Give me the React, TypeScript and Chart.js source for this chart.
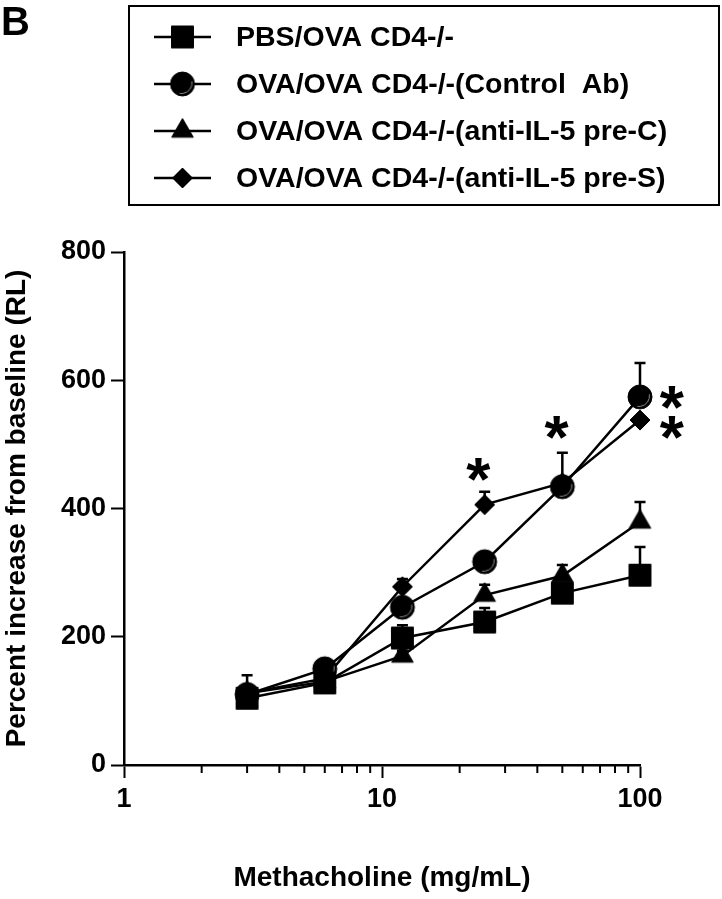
import React, { useEffect, useRef } from 'react';
import { Chart, registerables } from 'chart.js';

Chart.register(...registerables);

const FONT = '"Liberation Sans", Arial, Helvetica, sans-serif';

// ---- data ----
const doses = [3, 6, 12, 25, 50, 100];
const seriesLabels = [
  'PBS/OVA CD4-/-',
  'OVA/OVA CD4-/-(Control  Ab)',
  'OVA/OVA CD4-/-(anti-IL-5 pre-C)',
  'OVA/OVA CD4-/-(anti-IL-5 pre-S)',
];
const pbsValues = [104, 128, 198, 223, 268, 296];
const pbsErr = [12, 6, 20, 22, 10, 44];
const ctrlValues = [110, 150, 246, 317, 434, 574];
const ctrlErr = [8, 6, 8, 6, 53, 53];
const preCValues = [112, 130, 170, 265, 295, 379];
const preCErr = [8, 6, 8, 16, 17, 31];
const preSValues = [112, 135, 278, 406, 440, 538];
const preSErr = [28, 6, 12, 20, 6, 6];
const pointStyles = ['rect', 'circle', 'triangle', 'rectRot'];
const pointSizes = [15.5, 12, 12.5, 10];

const yTickValues = [0, 200, 400, 600, 800];
const xTickLabels = [1, 10, 100];
const xMinorTicks = [2, 3, 4, 5, 6, 7, 8, 9, 20, 30, 40, 50, 60, 70, 80, 90];

// significance asterisks (data coordinates)
const starX = [23.6, 47.5, 132.7, 132.7];
const starY = [468, 534, 580, 534];

const xTitle = 'Methacholine (mg/mL)';
const yTitle = 'Percent increase from baseline (RL)';
const panelLabel = 'B';

const allValues = [pbsValues, ctrlValues, preCValues, preSValues];
const allErr = [pbsErr, ctrlErr, preCErr, preSErr];

function markerPath(ctx: CanvasRenderingContext2D, style: string, x: number, y: number, r: number) {
  ctx.beginPath();
  if (style === 'rect') {
    const s = Math.SQRT1_2 * r;
    ctx.rect(x - s, y - s, 2 * s, 2 * s);
  } else if (style === 'circle') {
    ctx.arc(x, y, r, 0, Math.PI * 2);
  } else if (style === 'triangle') {
    const a = (2 * Math.PI) / 3;
    ctx.moveTo(x, y - r);
    ctx.lineTo(x + r * Math.sin(a), y - r * Math.cos(a));
    ctx.lineTo(x + r * Math.sin(2 * a), y - r * Math.cos(2 * a));
    ctx.closePath();
  } else {
    ctx.moveTo(x - r, y);
    ctx.lineTo(x, y - r);
    ctx.lineTo(x + r, y);
    ctx.lineTo(x, y + r);
    ctx.closePath();
  }
}

// marker sprites (black shape; circle carries the faint grey crescent of the original)
function makeSprite(style: string, r: number): HTMLCanvasElement {
  const size = Math.ceil(2 * r + 4);
  const c = document.createElement('canvas');
  c.width = size;
  c.height = size;
  const ctx = c.getContext('2d') as CanvasRenderingContext2D;
  const cx = size / 2, cy = size / 2;
  ctx.fillStyle = '#000';
  ctx.strokeStyle = '#000';
  ctx.lineWidth = 1;
  markerPath(ctx, style, cx, cy, r);
  ctx.fill();
  ctx.stroke();
  if (style === 'circle') {
    ctx.strokeStyle = '#8a8a8a';
    ctx.lineWidth = 1;
    ctx.beginPath();
    ctx.arc(cx - 1, cy - 1, r - 1.5, -0.05 * Math.PI, 0.55 * Math.PI);
    ctx.stroke();
  }
  return c;
}

const errorBarPlugin = {
  id: 'errorBars',
  beforeDatasetsDraw(chart: any) {
    const ctx = chart.ctx as CanvasRenderingContext2D;
    const xs = chart.scales.x;
    const ys = chart.scales.y;
    ctx.save();
    ctx.strokeStyle = '#000';
    ctx.lineWidth = 2.5;
    allValues.forEach((vals, si) => {
      vals.forEach((v, i) => {
        const e = allErr[si][i];
        const px = xs.getPixelForValue(doses[i]);
        const py = ys.getPixelForValue(v);
        const pt = ys.getPixelForValue(v + e);
        ctx.beginPath();
        ctx.moveTo(px, py);
        ctx.lineTo(px, pt);
        ctx.moveTo(px - 5.5, pt);
        ctx.lineTo(px + 5.5, pt);
        ctx.stroke();
      });
    });
    ctx.restore();
  },
};

export default function App() {
  const ref = useRef<HTMLCanvasElement | null>(null);
  useEffect(() => {
    if (!ref.current) return;
    const sprites = pointStyles.map((s, i) => makeSprite(s, pointSizes[i]));

    const decorPlugin = {
      id: 'decor',
      afterDraw(chart: any) {
        const ctx = chart.ctx as CanvasRenderingContext2D;
        const xs = chart.scales.x;
        const ys = chart.scales.y;
        ctx.save();
        // minor ticks on x axis
        ctx.strokeStyle = '#000';
        ctx.lineWidth = 2;
        const base = chart.chartArea.bottom;
        xMinorTicks.forEach((t) => {
          const px = xs.getPixelForValue(t);
          ctx.beginPath();
          ctx.moveTo(px, base);
          ctx.lineTo(px, base + 8);
          ctx.stroke();
        });

        // asterisks
        ctx.fillStyle = '#000';
        const starSize = 62;
        ctx.font = `bold ${starSize}px ${FONT}`;
        ctx.textAlign = 'center';
        ctx.textBaseline = 'alphabetic';
        starX.forEach((sx, i) => {
          const px = xs.getPixelForValue(sx);
          const py = ys.getPixelForValue(starY[i]);
          ctx.fillText('*', px, py + 0.57 * starSize);
        });

        // panel label
        ctx.font = `bold 40px ${FONT}`;
        ctx.textAlign = 'left';
        ctx.fillText(panelLabel, 1, 35);

        // legend box
        const boxL = 129, boxT = 6, boxR = 719, boxB = 205;
        ctx.lineWidth = 2;
        ctx.strokeRect(boxL, boxT, boxR - boxL, boxB - boxT);
        const rowY = [37, 84, 131, 178];
        ctx.font = `bold 28.5px ${FONT}`;
        ctx.textBaseline = 'middle';
        seriesLabels.forEach((lab, i) => {
          const y = rowY[i];
          ctx.lineWidth = 2.5;
          ctx.beginPath();
          ctx.moveTo(154, y);
          ctx.lineTo(211, y);
          ctx.stroke();
          const sp = sprites[i];
          ctx.drawImage(sp, 182.5 - sp.width / 2, y - sp.height / 2);
          ctx.fillText(lab, 236, y + 1);
        });
        ctx.restore();
      },
    };

    const datasets = allValues.map((vals, si) => ({
      label: seriesLabels[si],
      data: doses.map((x, i) => ({ x, y: vals[i] })),
      borderColor: '#000',
      backgroundColor: '#000',
      borderWidth: 2.5,
      pointStyle: sprites[si],
      pointRadius: pointSizes[si],
      tension: 0,
      fill: false,
      clip: false,
    }));
    const chart = new Chart(ref.current, {
      type: 'line',
      data: { datasets },
      options: {
        responsive: false,
        animation: false,
        devicePixelRatio: 1,
        layout: { padding: { left: 0, top: 252, right: 82, bottom: 0 } },
        plugins: { legend: { display: false }, tooltip: { enabled: false } },
        scales: {
          x: {
            type: 'logarithmic',
            min: 1,
            max: 100,
            position: 'bottom',
            afterFit: (s: any) => {
              s.height = 134;
            },
            ticks: {
              autoSkip: false,
              maxRotation: 0,
              padding: 5,
              color: '#000',
              font: { family: FONT, size: 27, weight: 'bold' },
              callback: (v: any) => (xTickLabels.includes(Number(v)) ? String(v) : ''),
            },
            grid: {
              drawOnChartArea: false,
              drawTicks: true,
              tickLength: 13,
              tickWidth: 2,
              tickColor: (c: any) =>
                c.tick && xTickLabels.includes(Number(c.tick.value)) ? '#000' : 'rgba(0,0,0,0)',
            },
            border: { display: true, color: '#000', width: 2.5 },
            title: {
              display: true,
              text: xTitle,
              color: '#000',
              font: { family: FONT, size: 28, weight: 'bold' },
              padding: { top: 0, bottom: 4 },
            },
          },
          y: {
            type: 'linear',
            min: 0,
            max: 800,
            afterFit: (s: any) => {
              s.width = 124;
            },
            afterBuildTicks: (s: any) => {
              s.ticks = yTickValues.map((v) => ({ value: v }));
            },
            ticks: {
              padding: 5,
              color: '#000',
              font: { family: FONT, size: 27, weight: 'bold' },
            },
            grid: {
              drawOnChartArea: false,
              drawTicks: true,
              tickLength: 13,
              tickWidth: 2,
              tickColor: '#000',
            },
            border: { display: true, color: '#000', width: 2.5 },
            title: {
              display: true,
              text: yTitle,
              color: '#000',
              font: { family: FONT, size: 28, weight: 'bold' },
              padding: { top: 0, bottom: 0 },
            },
          },
        },
      } as any,
      plugins: [errorBarPlugin, decorPlugin],
    });
    return () => chart.destroy();
  }, []);
  return (
    <canvas
      ref={ref}
      width={722}
      height={899}
      style={{ position: 'absolute', left: 0, top: 0, width: 722, height: 899 }}
    />
  );
}
